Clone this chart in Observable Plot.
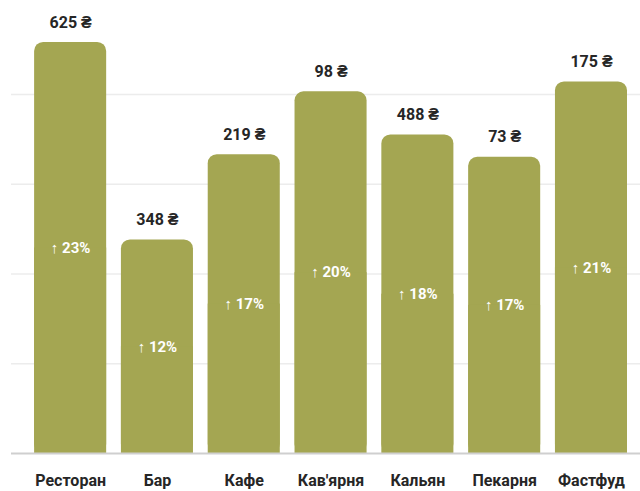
<!DOCTYPE html>
<html><head><meta charset="utf-8">
<script src="https://cdn.jsdelivr.net/npm/d3@7"></script>
<script src="https://cdn.jsdelivr.net/npm/@observablehq/plot@0.6"></script>
<style>
html,body{margin:0;padding:0;background:#fff;}
svg{display:block;}
</style>
</head><body><div id="chart"></div>
<script>
const categories = ["Ресторан","Бар","Кафе","Кав'ярня","Кальян","Пекарня","Фастфуд"];
const prices = [625,348,219,98,488,73,175];
const growth = [23,12,17,20,18,17,21];
// visual bar heights (chart units, gridlines every 100)
const barHeights = [458,238,333,403,355,330,414];
const gridTicks = [100,200,300,400];

const data = categories.map((c,i)=>({cat:c, price:prices[i], growth:growth[i], h:barHeights[i]}));

const font = "Roboto, 'Open Sans', sans-serif";
const chart = Plot.plot({
  width: 640, height: 491,
  marginLeft: 11, marginRight: 0, marginTop: 0, marginBottom: 38,
  style: {fontFamily: font, background: "#fff"},
  x: {domain: categories, paddingInner: 0.17, paddingOuter: 0.208, align: 0.64, round: false, axis: null},
  y: {domain: [0,400], range: [453,94], axis: null},
  marks: [
    Plot.ruleY(gridTicks, {stroke: "#ececec", strokeWidth: 1.5}),
    Plot.barY(data, {x: "cat", y: "h", fill: "#a4a652", rx: 9}),
    Plot.barY(data, {x: "cat", y: d => d.h/2, fill: "#a4a652"}),
    Plot.ruleY([0], {stroke: "#cfcfcf", strokeWidth: 2}),
    Plot.text(data, {x: "cat", y: "h", text: d => `${d.price} ₴`, dy: -20, fill: "#262626", fontSize: 16, fontWeight: 700}),
    Plot.text(data, {x: "cat", y: d => d.h/2, text: d => `↑ ${d.growth}%`, fill: "#ffffff", fontSize: 15, fontWeight: 700}),
    Plot.text(data, {x: "cat", y: 0, text: "cat", dy: 27, fill: "#262626", fontSize: 16, fontWeight: 700})
  ]
});
document.getElementById("chart").appendChild(chart);
</script>
</body></html>
